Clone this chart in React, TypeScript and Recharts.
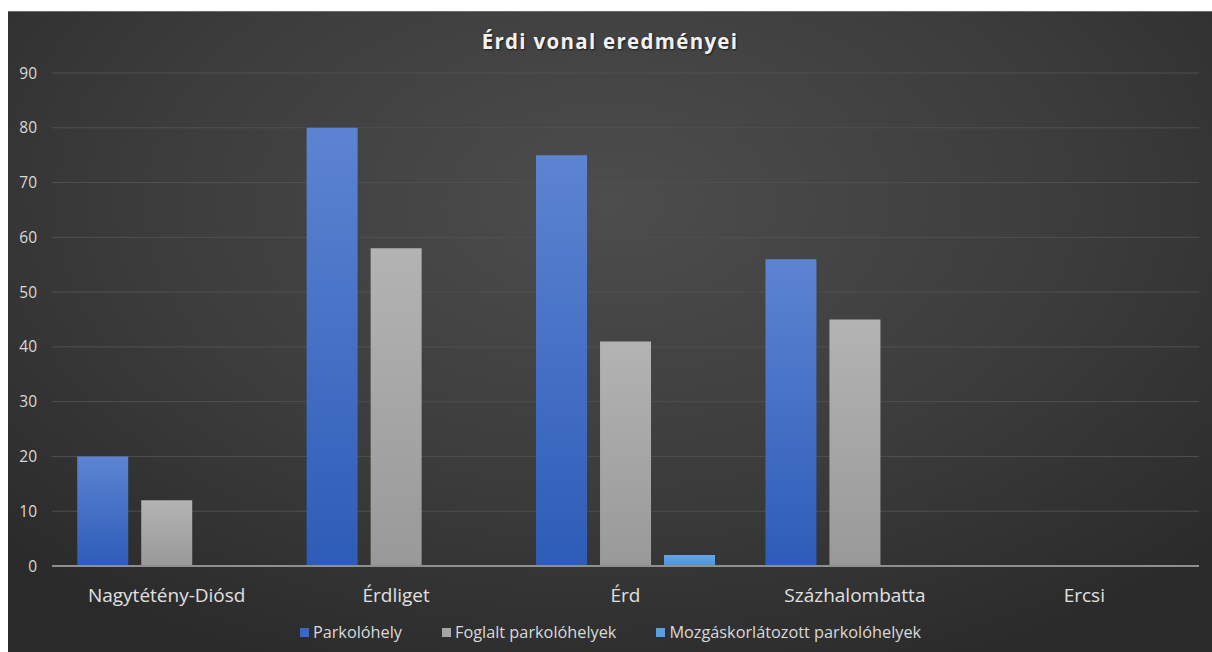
import React from "react";
import { BarChart, Bar, XAxis, YAxis, CartesianGrid, Legend } from "recharts";

const categories = ["Nagytétény-Diósd", "Érdliget", "Érd", "Százhalombatta", "Ercsi"];
const parkolohely = [20, 80, 75, 56, 0];
const foglalt = [12, 58, 41, 45, 0];
const mozgaskorlatozott = [0, 0, 2, 0, 0];
const yTicks = [0, 10, 20, 30, 40, 50, 60, 70, 80, 90];

const seriesNames = ["Parkolóhely", "Foglalt parkolóhelyek", "Mozgáskorlátozott parkolóhelyek"];
const seriesColors = ["#3a68c4", "#a5a5a5", "#5a9fe0"];

const data = categories.map((c, i) => ({
  name: c,
  p: parkolohely[i],
  f: foglalt[i],
  m: mozgaskorlatozott[i],
}));

const FONT = "'Open Sans', sans-serif";

const LegendContent = () => (
  <div style={{ display: "flex", justifyContent: "center", gap: 40, fontFamily: FONT, fontSize: 16.3, color: "#d9d9d9", height: 24, alignItems: "center", paddingLeft: 14 }}>
    {seriesNames.map((n, i) => (
      <div key={n} style={{ display: "flex", alignItems: "center", gap: 4 }}>
        <span style={{ display: "inline-block", width: 9, height: 9, background: seriesColors[i] }} />
        <span>{n}</span>
      </div>
    ))}
  </div>
);

export default function App() {
  return (
    <div style={{ position: "absolute", left: 8, top: 11, width: 1204, height: 641, background: "radial-gradient(ellipse 70% 80% at 50% 30%, #4d4d4d 0%, #3c3c3c 55%, #2a2a2a 100%)", borderTop: "1px solid #6a6a6a", boxSizing: "border-box" }}>
      <div style={{ position: "absolute", top: 15, left: 0, width: 1204, textAlign: "center", fontFamily: FONT, fontWeight: 700, fontSize: 20.5, color: "#f2f2f2", letterSpacing: 1.3, textShadow: "1px 1px 2px rgba(0,0,0,0.6)" }}>
        Érdi vonal eredményei
      </div>
      <BarChart width={1204} height={640} data={data} margin={{ top: 61, right: 13, left: 0, bottom: 8 }} barCategoryGap="11%" barGap={13}>
        <defs>
          <linearGradient id="gBlue" x1="0" y1="0" x2="0" y2="1">
            <stop offset="0%" stopColor="#5d84d2" />
            <stop offset="100%" stopColor="#2d5cb8" />
          </linearGradient>
          <linearGradient id="gGray" x1="0" y1="0" x2="0" y2="1">
            <stop offset="0%" stopColor="#b3b3b3" />
            <stop offset="100%" stopColor="#999999" />
          </linearGradient>
          <linearGradient id="gLight" x1="0" y1="0" x2="0" y2="1">
            <stop offset="0%" stopColor="#62a6e6" />
            <stop offset="100%" stopColor="#4d93d8" />
          </linearGradient>
        </defs>
        <CartesianGrid vertical={false} stroke="#505050" strokeWidth={1} />
        <XAxis dataKey="name" height={54} tickLine={false} axisLine={{ stroke: "#8f8f8f", strokeWidth: 2 }} tick={{ fill: "#e0e0e0", fontSize: 19, fontFamily: FONT }} tickMargin={17} />
        <YAxis width={44} domain={[0, 90]} ticks={yTicks} axisLine={false} tickLine={false} tick={{ fill: "#d9d9d9", fontSize: 15.5, fontFamily: FONT }} tickMargin={9} interval={0} />
        <Legend verticalAlign="bottom" content={<LegendContent />} wrapperStyle={{ height: 24 }} />
        <Bar dataKey="p" name={seriesNames[0]} fill="url(#gBlue)" isAnimationActive={false} />
        <Bar dataKey="f" name={seriesNames[1]} fill="url(#gGray)" isAnimationActive={false} />
        <Bar dataKey="m" name={seriesNames[2]} fill="url(#gLight)" isAnimationActive={false} />
      </BarChart>
    </div>
  );
}
